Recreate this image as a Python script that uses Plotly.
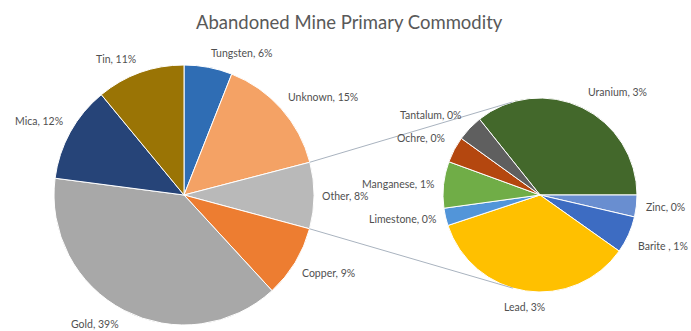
import math
import plotly.graph_objects as go

# ---------------- data ----------------
main_labels = ["Tungsten", "Unknown", "Other", "Copper", "Gold", "Mica", "Tin"]
main_known = [6.0, 15.0, None, 9.0, 39.0, 12.0, 11.0]   # "Other" = sum of breakdown
main_colors = ["#2f6db4", "#f4a265", "#b9b9b9", "#ed7d31", "#a8a8a8", "#264478", "#9a7405"]

sub_labels = ["Uranium", "Zinc", "Barite ", "Lead", "Limestone", "Manganese", "Ochre", "Tantalum"]
sub_values = [2.95, 0.3, 0.51, 2.9, 0.24, 0.64, 0.36, 0.36]
sub_colors = ["#43682b", "#698ed0", "#3d6cc2", "#ffc000", "#5295d9", "#70ad47", "#b4470f", "#5f5f5f"]

title = "Abandoned Mine Primary Commodity"

# ---------------- layout geometry (pixels) ----------------
W, H = 691, 331
MAIN = dict(cx=184, cy=195, r=130)
SUB = dict(cx=540, cy=195, r=97)
LABEL_FONT = dict(family="Lato, Carlito, sans-serif", size=10.5, color="#505050")

main_values = [sum(sub_values) if v is None else v for v in main_known]
total = sum(main_values)


def pct(v):
    return f"{round(v / total * 100)}%"


def domain(g):
    return dict(x=[(g["cx"] - g["r"]) / W, (g["cx"] + g["r"]) / W],
                y=[1 - (g["cy"] + g["r"]) / H, 1 - (g["cy"] - g["r"]) / H])


def slice_angles(values, rotation):
    s = sum(values)
    out, acc = [], 0.0
    for v in values:
        a0 = rotation + 360 * acc / s
        acc += v
        a1 = rotation + 360 * acc / s
        out.append((a0, a1))
    return out


def pt(g, ang, rr):
    t = math.radians(ang)
    return g["cx"] + rr * math.sin(t), g["cy"] - rr * math.cos(t)


main_rot = 0
sub_rot = 90 - 360 * sub_values[0] / sum(sub_values)

fig = go.Figure()
fig.add_trace(go.Pie(
    labels=main_labels, values=main_values, sort=False, direction="clockwise",
    rotation=main_rot, domain=domain(MAIN), textinfo="none", hoverinfo="label+percent",
    marker=dict(colors=main_colors, line=dict(color="white", width=1)), showlegend=False))
fig.add_trace(go.Pie(
    labels=sub_labels, values=sub_values, sort=False, direction="clockwise",
    rotation=sub_rot, domain=domain(SUB), textinfo="none", hoverinfo="label+value",
    marker=dict(colors=sub_colors, line=dict(color="white", width=1)), showlegend=False))

annotations = []


def add_labels(g, labels, values, rotation, gap):
    for lab, v, (a0, a1) in zip(labels, values, slice_angles(values, rotation)):
        m = (a0 + a1) / 2
        s, c = math.sin(math.radians(m)), math.cos(math.radians(m))
        px, py = pt(g, m, g["r"] + gap)
        xa = "left" if s > 0.15 else ("right" if s < -0.2 else "center")
        ya = "bottom" if c > 0.35 else ("top" if c < -0.35 else "middle")
        annotations.append(dict(x=px / W, y=1 - py / H, xref="paper", yref="paper",
                                text=f"{lab}, {pct(v)}", showarrow=False,
                                xanchor=xa, yanchor=ya, font=LABEL_FONT))


add_labels(MAIN, main_labels, main_values, main_rot, 6)
add_labels(SUB, sub_labels, sub_values, sub_rot, 8)

annotations.append(dict(x=349 / W, y=1 - 22 / H, xref="paper", yref="paper", text=title,
                        showarrow=False, xanchor="center", yanchor="middle",
                        font=dict(family="Lato, Carlito, sans-serif", size=18.5, color="#595959")))

# connector lines: from "Other" slice edges on main pie, tangent to the secondary pie
oi = main_labels.index("Other")
o0, o1 = slice_angles(main_values, main_rot)[oi]
shapes = []
for ang, side in ((o0, -1), (o1, 1)):
    x0, y0 = pt(MAIN, ang, MAIN["r"])
    dx, dy = SUB["cx"] - x0, SUB["cy"] - y0
    d = math.hypot(dx, dy)
    base = math.atan2(dy, dx)
    off = math.asin(SUB["r"] / d)
    phi = base + side * off
    L = math.sqrt(d * d - SUB["r"] ** 2)
    x1, y1 = x0 + L * math.cos(phi), y0 + L * math.sin(phi)
    shapes.append(dict(type="line", xref="paper", yref="paper",
                       x0=x0 / W, y0=1 - y0 / H, x1=x1 / W, y1=1 - y1 / H,
                       line=dict(color="#a9b3bf", width=1)))

fig.update_layout(width=W, height=H, margin=dict(l=0, r=0, t=0, b=0),
                  paper_bgcolor="white", plot_bgcolor="white",
                  annotations=annotations, shapes=shapes)

fig.write_html("out.html")
